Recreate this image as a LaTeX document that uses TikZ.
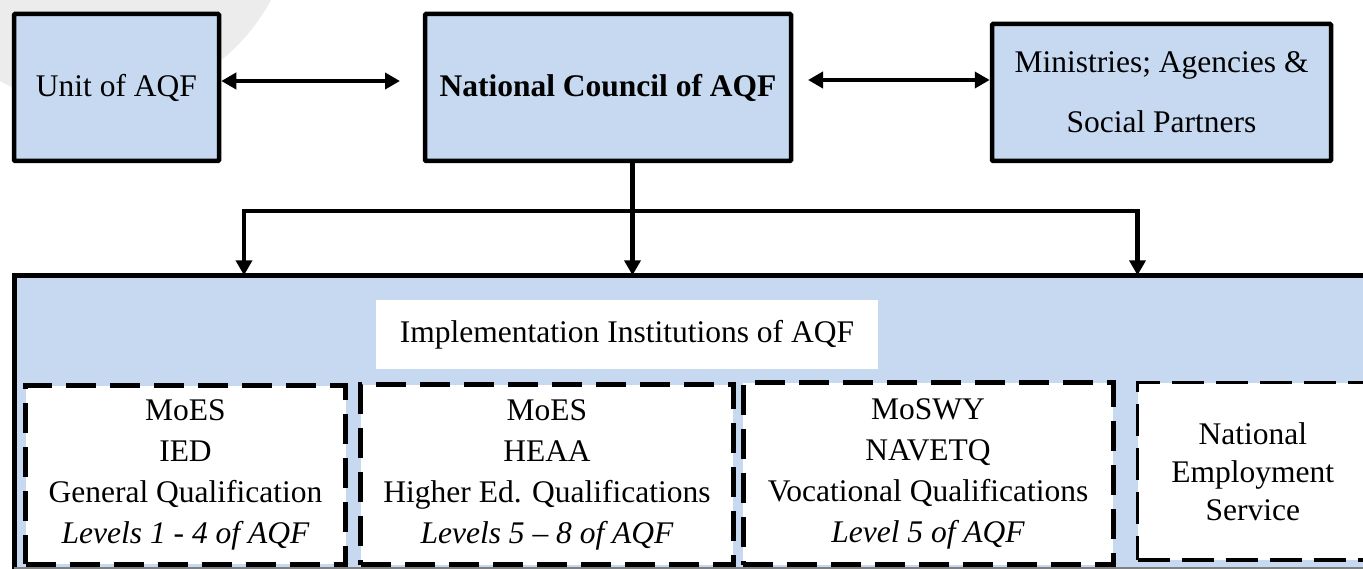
\documentclass[tikz,border=0pt]{standalone}
\usepackage{fontspec}
\setmainfont{Liberation Serif}
\usetikzlibrary{arrows.meta}
\definecolor{boxblue}{RGB}{198,217,240}
\definecolor{markgray}{RGB}{236,236,236}
\begin{document}
\begin{tikzpicture}[x=1pt,y=-1pt,
  topbox/.style={draw=black,line width=4.5pt,fill=boxblue,rounded corners=1pt,inner sep=0pt,align=center,font=\fontsize{31.5}{60}\selectfont},
  dashbox/.style={draw=black,line width=5pt,fill=white,dash pattern=on 30pt off 14pt,inner sep=0pt,align=center,font=\fontsize{31.5}{41}\selectfont},
  thindash/.style={dashbox,line width=3.5pt,dash pattern=on 32pt off 12pt},
  conn/.style={line width=4.8pt,black,line join=miter},
  >={Triangle[length=15pt,width=16pt]}
]
\useasboundingbox (0,0) rectangle (1363,569);
\clip (0,0) rectangle (1363,569);
% faint watermark
\fill[markgray] (95,-95) circle[radius=200];

% top boxes
\node[topbox,minimum width=205pt,minimum height=147pt] (unit) at (116.5,87.5) {Unit of AQF};
\node[topbox,minimum width=366pt,minimum height=147pt] (nat) at (608,87.5) {\bfseries National Council of AQF};
\node[topbox,minimum width=339pt,minimum height=137pt] (mini) at (1161.5,92.5) {Ministries; Agencies \&\\Social Partners};

% implementation container
\node[fill=boxblue,inner sep=0pt,minimum width=1386pt,minimum height=292.5pt] (impl) at (707.25,421.75) {};
\draw[line width=5pt,line cap=rect] (impl.south west) -- (impl.north west) -- (impl.north east);
\draw[gray,line width=1.5pt] (impl.south west) -- (impl.south east);

\node[fill=white,inner sep=0pt,minimum width=502pt,minimum height=69pt,font=\fontsize{31.5}{41}\selectfont] (lab) at (627,334.5) {Implementation Institutions of AQF};

\node[dashbox,minimum width=320pt,minimum height=178.5pt] (b1) at (185.5,475) {MoES\\IED\\General Qualification\\\itshape Levels 1 - 4 of AQF};
\node[dashbox,minimum width=372.5pt,minimum height=180pt] (b2) at (547,474.5) {MoES\\HEAA\\Higher Ed. Qualifications\\\itshape Levels 5 -- 8 of AQF};
\node[dashbox,minimum width=370pt,minimum height=182pt] (b3) at (928,473.5) {MoSWY\\NAVETQ\\Vocational Qualifications\\\itshape Level 5 of AQF};
\node[thindash,minimum width=230.5pt,minimum height=177.5pt,font=\fontsize{31.5}{38}\selectfont] (b4) at (1252.75,471.25) {National\\Employment\\Service};

% connectors
\coordinate (a1e) at (400,81);
\coordinate (a2s) at (808,80);
\coordinate (vm) at (632.5,211);
\coordinate (hl) at (244,211);
\coordinate (hr) at (1137.5,211);
\draw[conn,<->] (unit.east |- a1e) -- (a1e);
\draw[conn,<->] (a2s) -- (mini.west |- a2s);
\draw[conn,<->] (hl |- impl.north) -- (hl) -- (hr) -- (hr |- impl.north);
\draw[conn,->] (nat.south -| vm) -- (vm |- impl.north);
\end{tikzpicture}
\end{document}
